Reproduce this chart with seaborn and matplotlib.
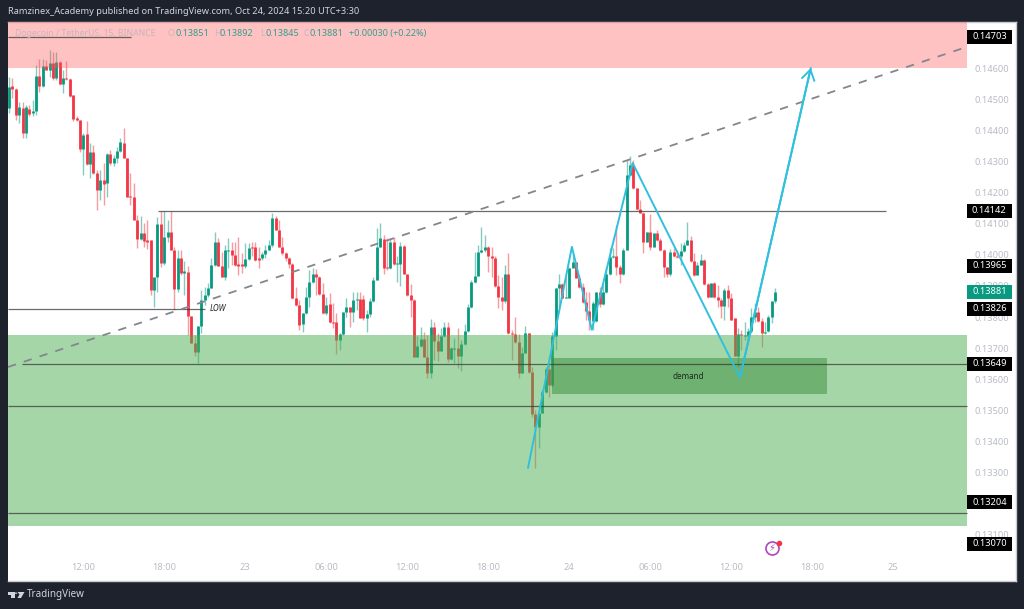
import numpy as np
import pandas as pd
import seaborn as sns
import matplotlib.pyplot as plt
from matplotlib.patches import Rectangle, Polygon, Circle

# candle values, in 1/100000 of a tether
opens = [14473,14544,14535,14451,14473,14392,14469,14456,14462,14577,
14544,14607,14596,14617,14569,14621,14551,14569,14566,14515,
14440,14433,14340,14389,14293,14330,14263,14209,14240,14231,
14324,14295,14311,14336,14360,14311,14190,14188,14113,14051,
14070,14048,14048,13887,13930,14100,13973,14057,14075,14016,
13890,13989,13943,13944,13802,13716,13686,13772,13855,13871,
13895,13968,14040,13965,13930,14014,14016,14000,13970,13970,
13965,13986,14025,14025,13989,13989,14002,14016,14032,14120,
14081,14027,14006,13989,13970,13861,13839,13777,13812,13866,
13912,13939,13930,13874,13812,13841,13783,13783,13726,13744,
13817,13831,13815,13855,13858,13858,13796,13809,13850,13919,
14027,14051,13959,13959,14043,13970,13970,14030,13939,13871,
13855,13672,13707,13728,13672,13621,13769,13724,13692,13739,
13769,13664,13699,13701,13675,13712,13756,13831,13912,13932,
14011,14016,14027,13997,13989,13901,13864,13850,13939,13748,
13745,13718,13621,13685,13748,13624,13488,13447,13490,13560,
13633,13581,13740,13893,13906,13862,13862,13959,13976,13925,
13896,13847,13820,13788,13788,13879,13842,13879,13939,13994,
13997,13962,13938,14016,14257,14290,14215,14147,14136,14043,
14073,14027,14070,14048,14016,13960,13938,14011,13997,13997,
14013,14032,14048,13980,13935,13968,13984,13906,13866,13909,
13863,13855,13836,13887,13860,13798,13675,13745,13741,13740,
13755,13801,13817,13788,13750,13755,13801,13851]
closes = [14542,14535,14451,14476,14392,14476,14454,14464,14577,14544,
14607,14596,14617,14569,14621,14551,14569,14566,14513,14438,
14433,14340,14387,14293,14330,14263,14209,14240,14229,14324,
14295,14311,14336,14362,14311,14188,14188,14113,14051,14070,
14045,14043,13887,13930,14100,13973,14057,14075,14016,13890,
13989,13943,13947,13802,13716,13686,13772,13855,13871,13895,
13968,14040,13965,13930,14016,14016,14000,13968,13965,13965,
13986,14022,14022,13984,13984,14002,14016,14032,14118,14081,
14027,14006,13989,13970,13861,13839,13775,13812,13866,13912,
13939,13930,13874,13812,13839,13783,13781,13726,13744,13817,
13831,13815,13855,13858,13798,13796,13809,13850,13919,14027,
14054,13957,13957,14043,13970,13973,14030,13939,13871,13855,
13672,13707,13728,13672,13619,13769,13724,13692,13739,13769,
13664,13699,13701,13675,13712,13756,13831,13912,13932,14011,
14016,14027,13995,13989,13901,13864,13850,13939,13748,13744,
13718,13621,13685,13748,13624,13488,13447,13490,13560,13633,
13581,13740,13893,13906,13860,13863,13959,13976,13925,13896,
13847,13820,13790,13844,13879,13842,13879,13939,13994,13997,
13962,13938,14016,14257,14290,14215,14147,14136,14043,14073,
14027,14070,14048,14016,13960,13938,14011,13997,13994,14013,
14032,14048,13980,13935,13968,13984,13906,13866,13909,13863,
13855,13836,13887,13860,13790,13675,13745,13741,13742,13755,
13801,13817,13788,13750,13753,13801,13850,13881]
highs = [14574,14569,14537,14494,14494,14483,14483,14499,14612,14630,
14630,14628,14660,14655,14655,14623,14596,14623,14569,14515,
14446,14435,14392,14430,14360,14354,14274,14274,14295,14328,
14338,14322,14349,14378,14408,14311,14263,14231,14129,14124,
14102,14113,14048,13930,14121,14143,14140,14113,14143,14027,
14016,14016,13979,13963,13802,13743,13772,13887,13898,13909,
13989,14075,14054,14011,14032,14054,14043,14043,14059,14006,
14038,14038,14043,14043,14027,14011,14032,14048,14134,14126,
14113,14059,14011,13993,13973,13898,13855,13812,13898,13952,
13957,13954,13932,13909,13866,13876,13844,13812,13748,13817,
13860,13833,13882,13882,13882,13871,13823,13860,13928,14086,
14102,14064,14054,14054,14059,13995,14043,14032,13939,13905,
13857,13739,13769,13753,13742,13794,13785,13750,13764,13785,
13785,13705,13731,13764,13726,13778,13842,13919,14011,14032,
14091,14064,14029,14027,13995,13935,13930,13968,14005,13758,
13801,13745,13705,13771,13750,13640,13501,13490,13565,13640,
13672,13753,13893,13938,13911,13930,13962,14005,13978,13935,
13909,13882,13882,13850,13879,13898,13903,13962,14023,14021,
14096,13968,14021,14306,14317,14306,14215,14177,14139,14075,
14132,14070,14080,14054,14018,13962,14018,14021,14016,14037,
14043,14107,14061,14005,13978,14003,13986,13911,13911,13914,
13903,13860,13893,13903,13876,13798,13764,13758,13785,13764,
13828,13844,13833,13796,13785,13807,13850,13892]
lows = [14456,14505,14435,14424,14376,14376,14446,14446,14451,14526,
14542,14596,14572,14564,14564,14548,14521,14564,14510,14430,
14430,14333,14258,14290,14247,14261,14145,14177,14161,14188,
14290,14285,14295,14333,14311,14188,14161,14113,14022,14048,
14027,14018,13871,13832,13882,13960,13968,14043,14016,13823,
13882,13936,13871,13743,13716,13673,13651,13748,13839,13866,
13893,13965,13963,13928,13920,13957,13968,13963,13936,13941,
13957,13984,13995,13979,13957,13984,13989,14016,14027,14079,
14027,14000,13979,13957,13857,13834,13759,13753,13810,13833,
13909,13871,13871,13810,13807,13780,13764,13681,13694,13742,
13801,13769,13785,13823,13796,13791,13751,13801,13847,13919,
14027,13939,13952,13954,13968,13914,13900,13939,13869,13801,
13672,13670,13705,13670,13603,13603,13662,13660,13689,13737,
13656,13662,13653,13635,13627,13710,13753,13828,13909,13932,
14007,14011,13946,13930,13898,13828,13823,13844,13745,13662,
13715,13603,13619,13683,13619,13479,13313,13377,13490,13554,
13544,13576,13694,13833,13860,13860,13860,13973,13925,13893,
13846,13790,13758,13758,13785,13833,13839,13876,13935,13989,
13935,13909,13935,14016,14254,14211,14145,14134,14005,14040,
14016,14025,14046,14014,13928,13930,13932,13994,13989,13968,
14011,14032,13978,13932,13935,13968,13903,13860,13863,13860,
13833,13796,13791,13833,13790,13675,13640,13694,13726,13726,
13750,13785,13785,13705,13745,13753,13782,13845]

price_ticks = [0.146, 0.145, 0.144, 0.143, 0.142, 0.141, 0.140, 0.139, 0.138,
               0.137, 0.136, 0.135, 0.134, 0.133, 0.131]
time_ticks = [22, 46, 70, 94, 118, 142, 166, 190, 214, 238, 262]
time_labels = ["12:00", "18:00", "23", "06:00", "12:00", "18:00", "24", "06:00", "12:00", "18:00", "25"]

# drawn levels: price, first bar, last bar
levels = [0.14703, 0.14142, 0.13826, 0.13649, 0.13514, 0.13169]
level_start = [-0.3, 44.1, -0.3, 3.9, -0.3, -0.3]
level_end = [36.1, 259.9, 58, 283.9, 283.9, 283.9]
price_boxes = [0.14703, 0.14142, 0.13965, 0.13881, 0.13826, 0.13649, 0.13204, 0.13070]

trend_x = [-0.3, 283.9]
trend_y = [0.13639, 0.14670]
path_x = [153.8, 166.8, 172.7, 184.8, 216.6, 237.6]
path_y = [0.13314, 0.14026, 0.13759, 0.14296, 0.13605, 0.14602]

GREEN = "#089981"
RED = "#F23645"
DARK = "#1E222D"
CYAN = "#30C0DC"


def px(x, y):
    return x / 1024, 1 - y / 609


sns.set_theme(style="white")
plt.rcParams["font.family"] = ["Noto Sans", "DejaVu Sans"]

o = np.array(opens) / 1e5
c = np.array(closes) / 1e5
h = np.array(highs) / 1e5
l = np.array(lows) / 1e5
idx = np.arange(len(o))
side = np.where(c >= o, "up", "down")
# thin candles still need to show a body line
body_top = np.maximum(np.maximum(o, c), (o + c) / 2 + 0.000015)
body_bot = np.minimum(np.minimum(o, c), (o + c) / 2 - 0.000015)

wicks = pd.DataFrame({"bar": np.r_[idx, idx], "price": np.r_[h, l], "side": np.r_[side, side]})
bodies = pd.DataFrame({"bar": np.r_[idx, idx], "price": np.r_[body_top, body_bot], "side": np.r_[side, side]})
colors = {"up": GREEN, "down": RED}

fig = plt.figure(figsize=(10.24, 6.09), dpi=100, facecolor=DARK)
ax = fig.add_axes([8 / 1024, 1 - 581 / 609, 1008 / 1024, 559 / 609], facecolor="white")

sns.lineplot(data=wicks, x="bar", y="price", hue="side", units="bar", estimator=None, palette=colors,
             lw=1.0, alpha=0.5, legend=False, solid_capstyle="butt", zorder=2, ax=ax)
sns.lineplot(data=bodies, x="bar", y="price", hue="side", units="bar", estimator=None, palette=colors,
             lw=2.0, legend=False, solid_capstyle="butt", zorder=3, ax=ax)

# zones sit over the candles
ax.add_patch(Rectangle((-0.3, 0.14603), 284.2, 0.0016, fc="#FF5252", alpha=0.35, ec="none", zorder=4))
ax.add_patch(Rectangle((-0.3, 0.13127), 284.2, 0.00615, fc="#4CAF50", alpha=0.5, ec="none", zorder=4))
ax.add_patch(Rectangle((161, 0.13552), 81.5, 0.00116, fc="#388E3C", alpha=0.5, ec="none", zorder=4.1))

ax.hlines(levels, level_start, level_end, color="#3a3a3a", lw=0.9, alpha=0.75, zorder=5)

sns.lineplot(x=trend_x, y=trend_y, color="#85858F", lw=1.3, sort=False, estimator=None, zorder=5, ax=ax,
             linestyle=(0, (4.6, 4.6)))
sns.lineplot(x=path_x, y=path_y, color=CYAN, lw=1.4, sort=False, estimator=None, zorder=5.5, ax=ax)
ax.annotate("", xy=(path_x[-1], path_y[-1]), xytext=(path_x[-2], path_y[-2]), zorder=5.5,
            arrowprops=dict(arrowstyle="->,head_length=0.6,head_width=0.38", color=CYAN, lw=1.4,
                            shrinkA=0, shrinkB=0))

ax.text(59.5, 0.13826, "LOW", fontsize=5.8, style="italic", fontweight="bold", color="#222222",
        va="center", zorder=6)
ax.text(201.2, 0.13608, "demand", fontsize=5.8, color="#1c2b1c", ha="center", va="center", zorder=6)

ax.set_xlim(-0.3, 298.4)
ax.set_ylim(0.1295, 0.1475)
ax.set_xlabel("")
ax.set_ylabel("")
ax.set_xticks(time_ticks, time_labels)
ax.set_yticks(price_ticks, [f"{p:.5f}" for p in price_ticks])
ax.yaxis.tick_right()
ax.tick_params(axis="y", length=0, pad=-30.2, labelsize=6.7, labelcolor="#B9BCC5")
ax.tick_params(axis="x", length=0, pad=-13, labelsize=6.7, labelcolor="#B9BCC5")
for spine in ax.spines.values():
    spine.set_color("#C9CBD1")
    spine.set_linewidth(1)
ax.spines["left"].set_visible(False)

# price labels on the right scale
for p in price_boxes:
    box_color = GREEN if p == 0.13881 else "black"
    ax.add_patch(Rectangle((283.9, p - 0.000225), 13.3, 0.00045, fc=box_color, ec="none", zorder=6))
    ax.text(290.5, p, f"{p:.5f}", color="white", fontsize=6.7, ha="center", va="center", zorder=7)

# header and pane legend
fig.text(*px(8, 12), "Ramzinex_Academy published on TradingView.com, Oct 24, 2024 15:20 UTC+3:30",
         color="#D1D4DC", fontsize=6.65, va="center")
y_leg = 33.7
fig.text(*px(14.7, y_leg), "Dogecoin / TetherUS, 15, BINANCE", color="#C9B4BB", fontsize=6.2, va="center", zorder=8)
for x, txt, col in [(168, "O", "#C9B4BB"), (175, "0.13851", "#2FA08D"), (214, "H", "#C9B4BB"),
                    (220, "0.13892", "#2FA08D"), (260, "L", "#C9B4BB"), (265, "0.13845", "#2FA08D"),
                    (304, "C", "#C9B4BB"), (310, "0.13881", "#2FA08D"), (349, "+0.00030 (+0.22%)", "#2FA08D")]:
    fig.text(*px(x, y_leg), txt, color=col, fontsize=6.5, va="center", zorder=8)

# lightning badge
ax.scatter([226.1], [0.13056], s=88, fc="white", ec="#AB47BC", lw=1.2, zorder=6)
ax.text(226.1, 0.13056, "\u26a1", color="#AB47BC", fontsize=7, ha="center", va="center",
        family="DejaVu Sans", zorder=7)
ax.scatter([228.2], [0.13073], s=16, color="#F23645", lw=0, zorder=8)

# footer logo
for pts in [[(8, 592), (14.5, 592), (14.5, 598), (11, 598), (11, 594.5), (8, 594.5)],
            [(17.5, 592), (24.5, 592), (21, 598), (17.5, 598), (19.5, 594.5)]]:
    fig.add_artist(Polygon([px(*p) for p in pts], closed=True, fc="#D1D4DC", ec="none", transform=fig.transFigure))
fig.add_artist(Circle(px(16, 593.2), 1.2 / 1024, fc="#D1D4DC", ec="none", transform=fig.transFigure))
fig.text(*px(27, 595), "TradingView", color="#D1D4DC", fontsize=7.1, va="center")

fig.savefig("out.png", dpi=100, facecolor=DARK)
